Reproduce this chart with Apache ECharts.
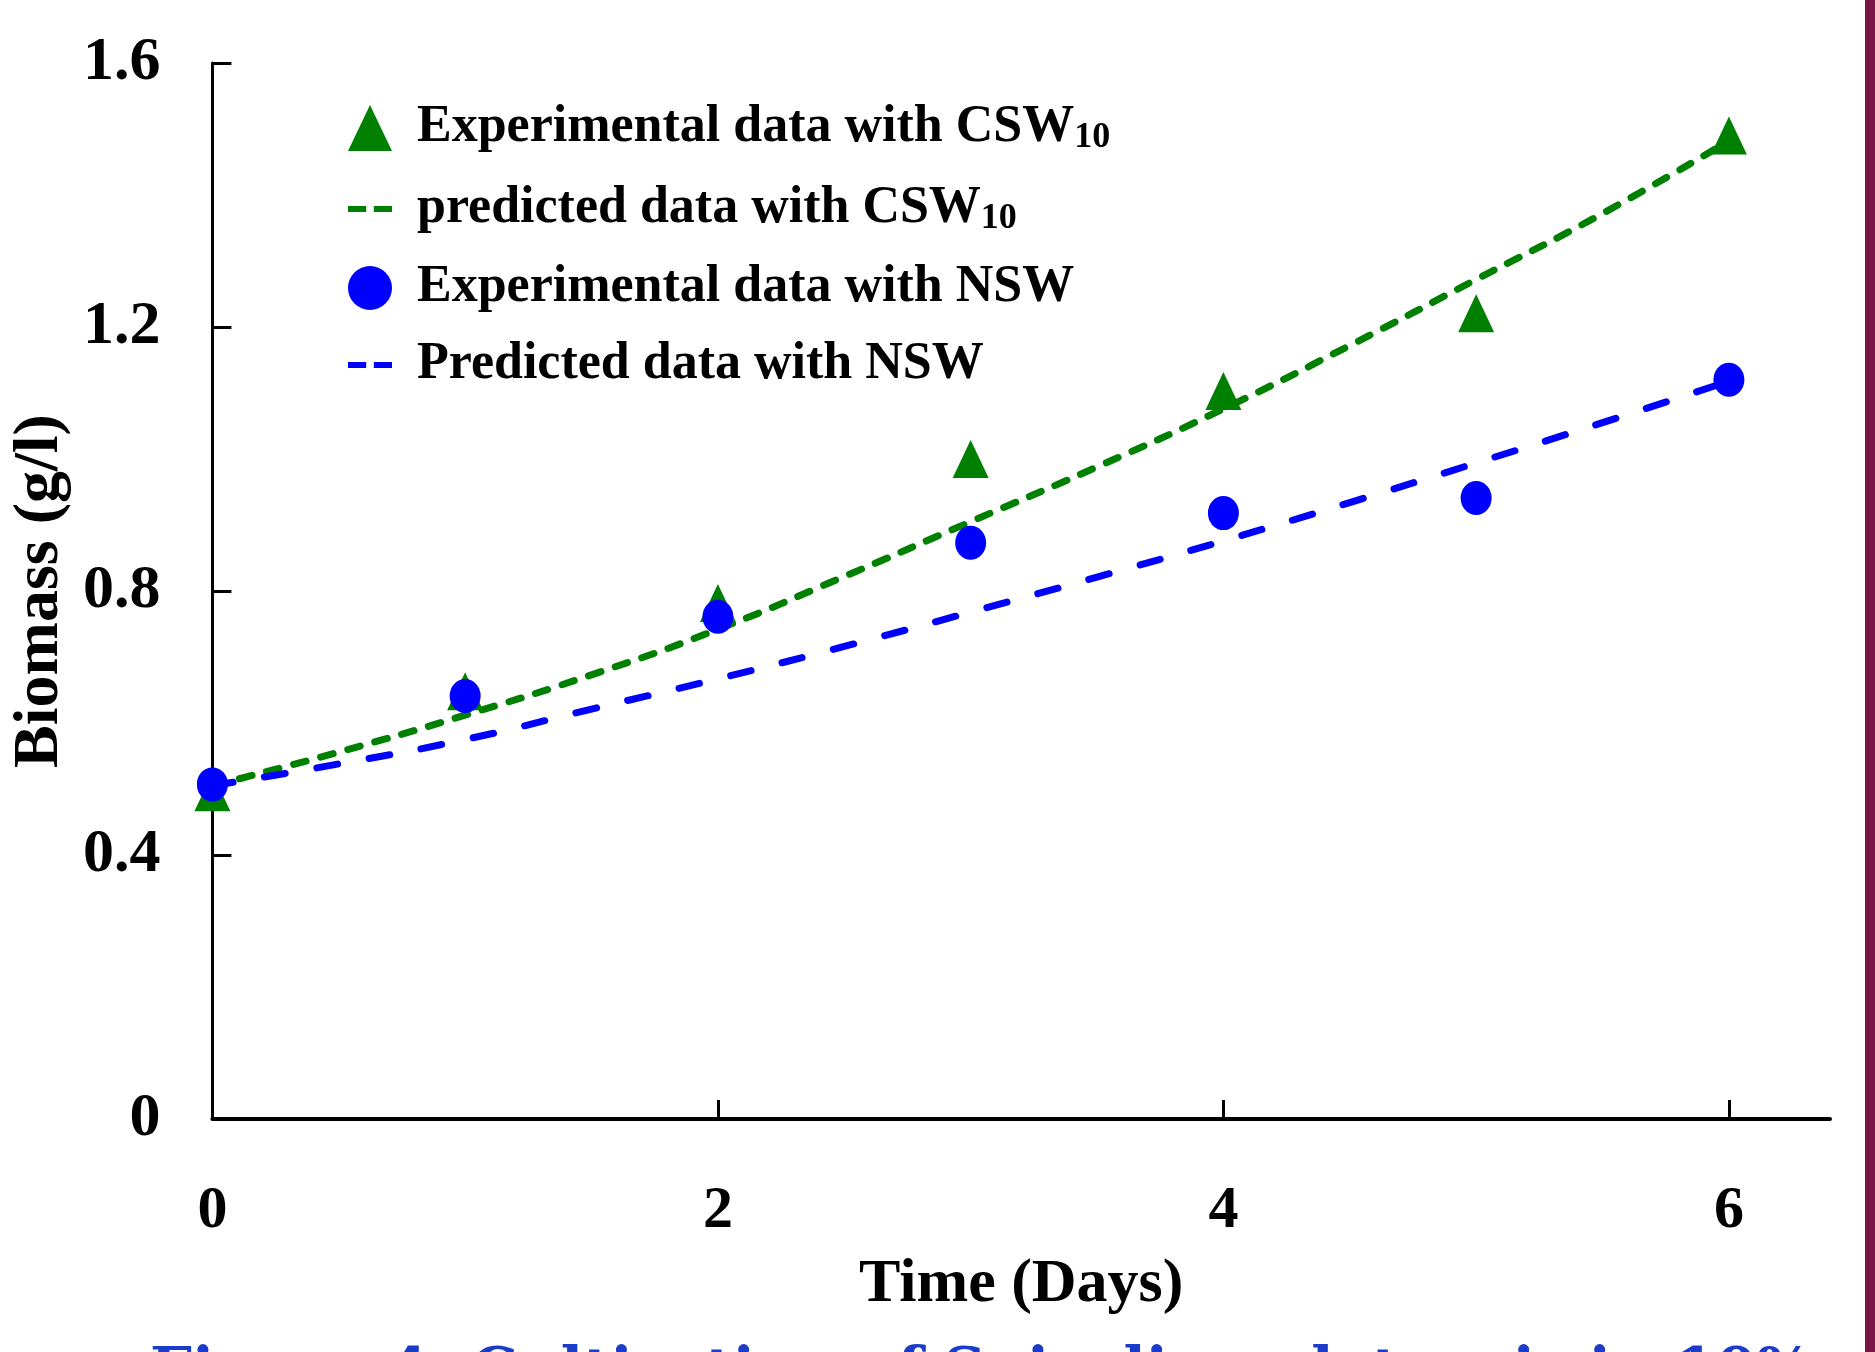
<!DOCTYPE html>
<html>
<head>
<meta charset="utf-8">
<script src="https://cdn.jsdelivr.net/npm/echarts@6/dist/echarts.min.js"></script>
<style>
  html, body { margin: 0; padding: 0; background: #fff; }
  #chart { width: 1875px; height: 1352px; }
</style>
</head>
<body>
<div id="chart"></div>
<script>
// measured days and biomass (g/l)
const days = [0, 1, 2, 3, 4, 5, 6];
const expCsw = [0.495, 0.648, 0.782, 1.0, 1.103, 1.221, 1.49];
const expNsw = [0.507, 0.641, 0.761, 0.873, 0.918, 0.941, 1.12];

// model curves
const predDays = [0, 0.5, 1, 1.5, 2, 2.5, 3, 3.5, 4, 4.5, 5, 5.5, 6];
const predCsw = [0.505, 0.556, 0.612, 0.673, 0.742, 0.822, 0.905, 0.988, 1.076, 1.172, 1.272, 1.372, 1.482];
const predNsw = [0.505, 0.538, 0.575, 0.621, 0.667, 0.716, 0.768, 0.821, 0.876, 0.934, 0.994, 1.055, 1.118];

const xTicks = [0, 2, 4, 6];
const names = [
  'Experimental data with CSW10',
  'predicted data with CSW10',
  'Experimental data with NSW',
  'Predicted data with NSW'
];

const GREEN = '#008000';
const BLUE = '#0000ff';
const FONT = 'Liberation Serif';
const pairs = (xs, ys) => xs.map((x, i) => [x, ys[i]]);
const dashIcon = 'path://M0,0H12V4H0Z M17,0H29V4H17Z';

const chart = echarts.init(document.getElementById('chart'), null, { renderer: 'canvas' });

chart.setOption({
  backgroundColor: '#fff',
  animation: false,
  grid: { left: 209, right: 45, top: 63, bottom: 233 },
  legend: {
    orient: 'vertical',
    left: 343,
    top: 95,
    itemWidth: 44,
    itemHeight: 46,
    itemGap: 25,
    data: [
      { name: names[0], icon: 'triangle' },
      { name: names[1], icon: dashIcon },
      { name: names[2], icon: 'circle' },
      { name: names[3], icon: dashIcon }
    ],
    formatter: (n) => n.replace('CSW10', 'CSW{sub|10}'),
    textStyle: {
      fontFamily: FONT,
      fontWeight: 'bold',
      fontSize: 52,
      color: '#000',
      lineHeight: 50,
      padding: [0, 0, 0, 20],
      rich: {
        sub: { fontFamily: FONT, fontWeight: 'bold', fontSize: 36, lineHeight: 36, padding: [20, 0, 0, 0] }
      }
    }
  },
  xAxis: {
    type: 'value',
    min: 0,
    max: 6.4,
    interval: 2,
    name: 'Time (Days)',
    nameLocation: 'middle',
    nameGap: 135,
    nameTextStyle: { fontFamily: FONT, fontWeight: 'bold', fontSize: 62, color: '#000' },
    axisLine: { onZero: false, lineStyle: { color: '#000', width: 4 } },
    axisTick: { inside: true, length: 19, customValues: xTicks, lineStyle: { color: '#000', width: 3 } },
    axisLabel: { margin: 62, customValues: xTicks, fontFamily: FONT, fontWeight: 'bold', fontSize: 60, color: '#000' },
    splitLine: { show: false }
  },
  yAxis: {
    type: 'value',
    min: 0,
    max: 1.6,
    interval: 0.4,
    name: 'Biomass (g/l)',
    nameLocation: 'middle',
    nameGap: 140,
    nameTextStyle: { fontFamily: FONT, fontWeight: 'bold', fontSize: 64, color: '#000' },
    axisLine: { show: true, lineStyle: { color: '#000', width: 3 } },
    axisTick: { show: true, inside: true, length: 19, lineStyle: { color: '#000', width: 3 } },
    axisLabel: { margin: 52, fontFamily: FONT, fontWeight: 'bold', fontSize: 62, color: '#000' },
    splitLine: { show: false }
  },
  series: [
    {
      name: names[1],
      type: 'line',
      smooth: true,
      showSymbol: false,
      symbol: 'none',
      z: 2,
      data: pairs(predDays, predCsw),
      itemStyle: { color: GREEN },
      lineStyle: { color: GREEN, width: 7, type: [13, 15], cap: 'round' }
    },
    {
      name: names[3],
      type: 'line',
      smooth: true,
      showSymbol: false,
      symbol: 'none',
      z: 2,
      data: pairs(predDays, predNsw),
      itemStyle: { color: BLUE },
      lineStyle: { color: BLUE, width: 7, type: [21, 32], cap: 'round' }
    },
    {
      name: names[0],
      type: 'scatter',
      symbol: 'triangle',
      symbolSize: [36, 38],
      z: 3,
      data: pairs(days, expCsw),
      itemStyle: { color: GREEN, opacity: 1 }
    },
    {
      name: names[2],
      type: 'scatter',
      symbol: 'circle',
      symbolSize: [31, 34],
      z: 4,
      data: pairs(days, expNsw),
      itemStyle: { color: BLUE, opacity: 1 }
    }
  ],
  graphic: [
    {
      type: 'rect',
      right: 0,
      top: 0,
      shape: { width: 10, height: 1352 },
      style: { fill: '#7b1446' }
    },
    {
      type: 'text',
      left: 150,
      top: 1345,
      style: {
        text: 'Figure 4: Cultivation of Spirulina platensis in 10%',
        fontFamily: 'DejaVu Serif',
        fontWeight: 'bold',
        fontSize: 59,
        fill: '#1a3cc8'
      }
    }
  ]
});
</script>
</body>
</html>
